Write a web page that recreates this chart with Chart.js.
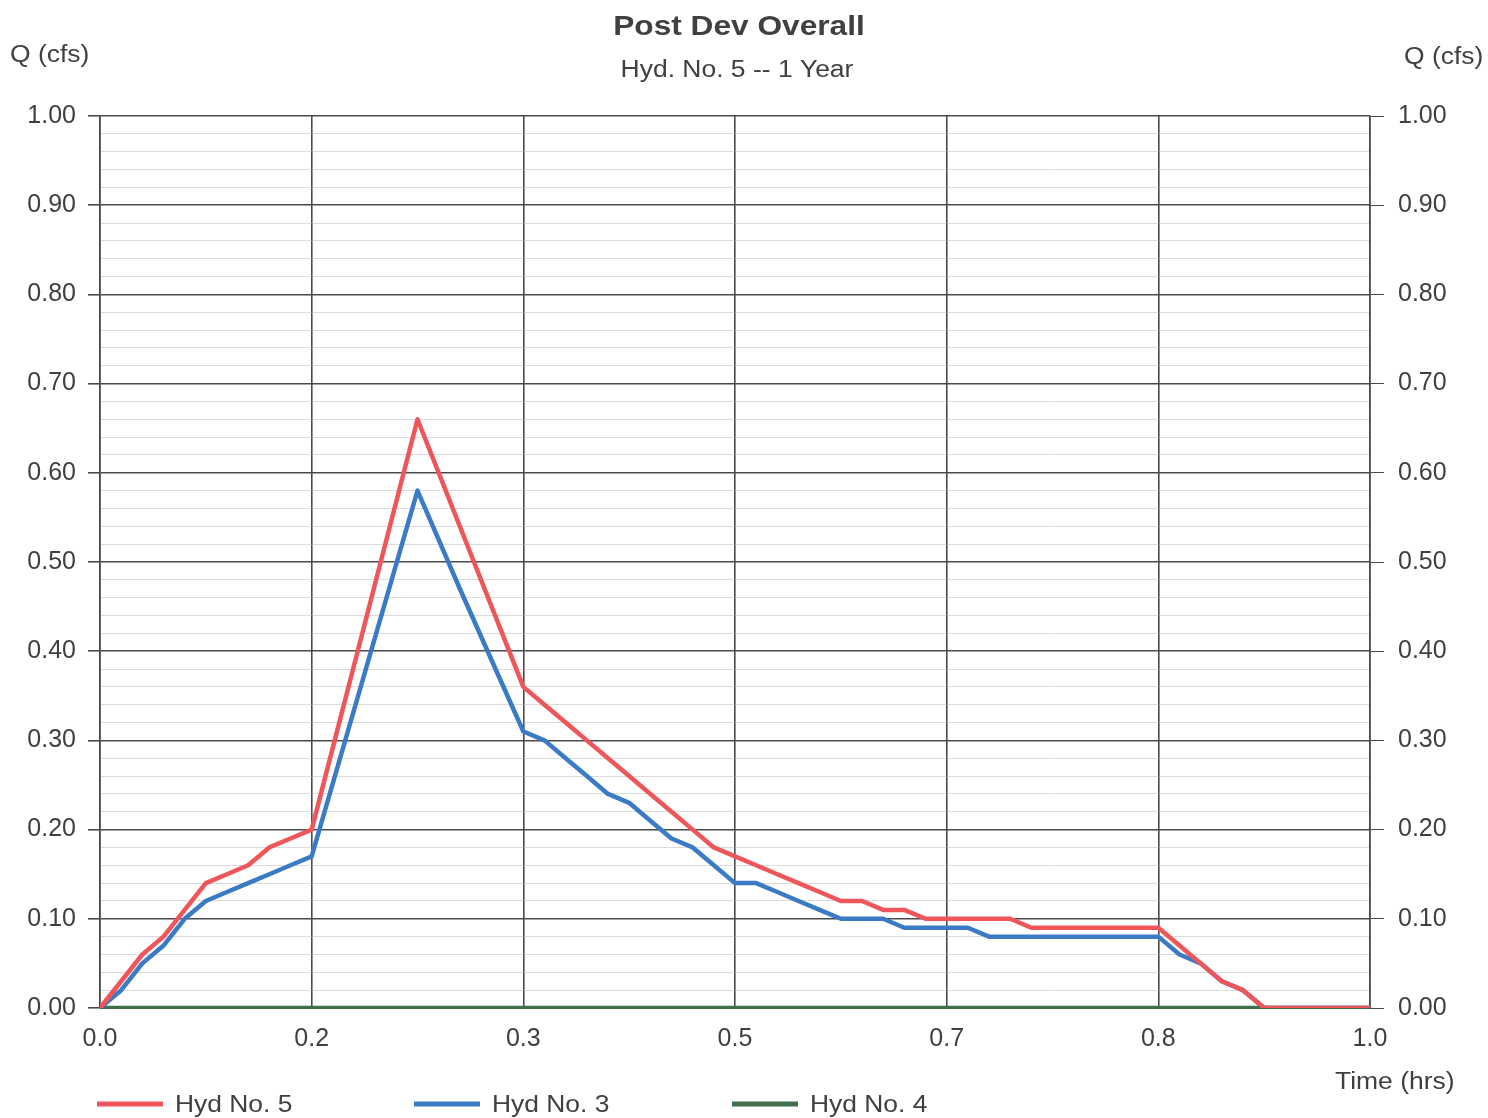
<!DOCTYPE html>
<html>
<head>
<meta charset="utf-8">
<title>Post Dev Overall</title>
<script src="https://cdn.jsdelivr.net/npm/chart.js@4.4.1/dist/chart.umd.min.js"></script>
<style>
  html, body { margin: 0; padding: 0; background: #ffffff; }
  #wrap { width: 1488px; height: 1118px; position: relative; }
</style>
</head>
<body>
<div id="wrap"><canvas id="hydro" width="1488" height="1118"></canvas></div>
<script>
// Time stamps in minutes, discharge in cfs
const timesNo5 = [0,1,2,3,4,5,6,7,8,9,10,15,20,21,22,23,24,25,26,27,28,29,30,31,32,33,34,35,36,37,38,39,40,41,42,43,44,45,46,47,48,49,50,51,52,53,54,55,60];
const flowNo5  = [0,0.03,0.06,0.08,0.11,0.14,0.15,0.16,0.18,0.19,0.20,0.66,0.36,0.34,0.32,0.30,0.28,0.26,0.24,0.22,0.20,0.18,0.17,0.16,0.15,0.14,0.13,0.12,0.12,0.11,0.11,0.10,0.10,0.10,0.10,0.10,0.09,0.09,0.09,0.09,0.09,0.09,0.09,0.07,0.05,0.03,0.02,0,0];

const timesNo3 = [0,1,2,3,4,5,6,7,8,9,10,15,17,20,21,22,23,24,25,26,27,28,29,30,31,32,33,34,35,36,37,38,39,40,41,42,43,44,45,46,47,48,49,50,51,52,53,54,55,60];
const flowNo3  = [0,0.02,0.05,0.07,0.10,0.12,0.13,0.14,0.15,0.16,0.17,0.58,0.47,0.31,0.30,0.28,0.26,0.24,0.23,0.21,0.19,0.18,0.16,0.14,0.14,0.13,0.12,0.11,0.10,0.10,0.10,0.09,0.09,0.09,0.09,0.08,0.08,0.08,0.08,0.08,0.08,0.08,0.08,0.08,0.06,0.05,0.03,0.02,0,0];

const timesNo4 = [0,60];
const flowNo4  = [0,0];

const seriesNames = ['Hyd No. 5', 'Hyd No. 3', 'Hyd No. 4'];
const xTickLabels = ['0.0','0.2','0.3','0.5','0.7','0.8','1.0'];
const yMin = 0, yMax = 1.0;

const FONT = '"Liberation Sans", Arial, Helvetica, sans-serif';
const TXT = '#404040';

function pts(t, q) { return t.map((m, i) => ({ x: m, y: q[i] })); }

const isMajor = v => Math.round(v * 100) % 10 === 0;

const gridColorY = ctx => {
  const v = ctx.tick ? ctx.tick.value : 0;
  return isMajor(v) ? '#4a4a4a' : 'rgba(175,175,175,0.45)';
};
const gridWidthY = ctx => {
  const v = ctx.tick ? ctx.tick.value : 0;
  return isMajor(v) ? 1.6 : 1;
};
const tickColorY = ctx => {
  const v = ctx.tick ? ctx.tick.value : 0;
  return isMajor(v) ? '#4a4a4a' : 'rgba(0,0,0,0)';
};
const yLabel = v => isMajor(v) ? Number(v).toFixed(2) : '';

// text drawn slightly wide, like the plotting program's output
function wideText(c, str, x, y, font, align, sx) {
  c.save();
  c.font = font;
  c.textAlign = align;
  c.textBaseline = 'middle';
  c.translate(x, y);
  c.scale(sx, 1);
  c.fillText(str, 0, 0);
  c.restore();
}

// Headings, axis captions and legend
const annotate = {
  id: 'annotate',
  afterDraw(chart) {
    const c = chart.ctx;
    c.save();
    c.fillStyle = TXT;

    wideText(c, 'Post Dev Overall', 739, 27, 'bold 28px ' + FONT, 'center', 1.13);
    wideText(c, 'Hyd. No. 5 -- 1 Year', 737, 71, '23px ' + FONT, 'center', 1.15);

    wideText(c, 'Q (cfs)', 10, 56, '23px ' + FONT, 'left', 1.15);
    wideText(c, 'Q (cfs)', 1404, 58, '23px ' + FONT, 'left', 1.15);
    wideText(c, 'Time (hrs)', 1335, 1083, '23px ' + FONT, 'left', 1.15);

    // legend
    const legendX = [97, 414, 732];
    chart.data.datasets.forEach((ds, i) => {
      const x0 = legendX[i], y0 = 1104;
      c.strokeStyle = ds.borderColor;
      c.lineWidth = 5;
      c.lineCap = 'butt';
      c.beginPath();
      c.moveTo(x0, y0);
      c.lineTo(x0 + 66, y0);
      c.stroke();
      c.fillStyle = TXT;
      wideText(c, ds.label, x0 + 78, y0 + 1, '24px ' + FONT, 'left', 1.1);
    });
    c.restore();
  }
};

const common = {
  borderWidth: 4.5,
  pointRadius: 0,
  tension: 0,
  borderJoinStyle: 'round',
  borderCapStyle: 'round',
  fill: false
};

new Chart(document.getElementById('hydro'), {
  type: 'line',
  data: {
    datasets: [
      Object.assign({ label: seriesNames[0], data: pts(timesNo5, flowNo5), borderColor: '#ee5659' }, common),
      Object.assign({ label: seriesNames[1], data: pts(timesNo3, flowNo3), borderColor: '#3b7bc6' }, common),
      Object.assign({ label: seriesNames[2], data: pts(timesNo4, flowNo4), borderColor: '#3f6e4b' }, common)
    ]
  },
  options: {
    responsive: false,
    animation: false,
    layout: { padding: { top: 116, left: 0, right: 0, bottom: 0 } },
    plugins: {
      legend: { display: false },
      title: { display: false },
      tooltip: { enabled: false }
    },
    scales: {
      x: {
        type: 'linear',
        min: 0, max: 60,
        ticks: {
          stepSize: 10,
          autoSkip: false,
          maxRotation: 0,
          color: TXT,
          font: { family: FONT, size: 25 },
          padding: 8,
          callback: (v, i) => xTickLabels[i]
        },
        grid: { color: '#4a4a4a', lineWidth: 1.6, tickLength: 8, tickColor: 'rgba(0,0,0,0)' },
        border: { display: true, color: '#3f6e4b', width: 1 },
        afterFit: s => { s.height = 110; }
      },
      y: {
        type: 'linear',
        position: 'left',
        min: yMin, max: yMax,
        ticks: {
          stepSize: 0.02,
          autoSkip: false,
          color: TXT,
          font: { family: FONT, size: 25 },
          padding: 12,
          callback: yLabel
        },
        grid: { color: gridColorY, lineWidth: gridWidthY, tickLength: 12, tickColor: tickColorY },
        border: { display: true, color: '#4a4a4a', width: 1.6 },
        afterFit: s => { s.width = 100; }
      },
      y2: {
        type: 'linear',
        position: 'right',
        min: yMin, max: yMax,
        ticks: {
          stepSize: 0.02,
          autoSkip: false,
          color: TXT,
          font: { family: FONT, size: 25 },
          padding: 14,
          callback: yLabel
        },
        grid: { drawOnChartArea: false, tickLength: 14, tickColor: tickColorY },
        border: { display: true, color: '#4a4a4a', width: 1.6 },
        afterFit: s => { s.width = 118; }
      }
    }
  },
  plugins: [annotate]
});
</script>
</body>
</html>
